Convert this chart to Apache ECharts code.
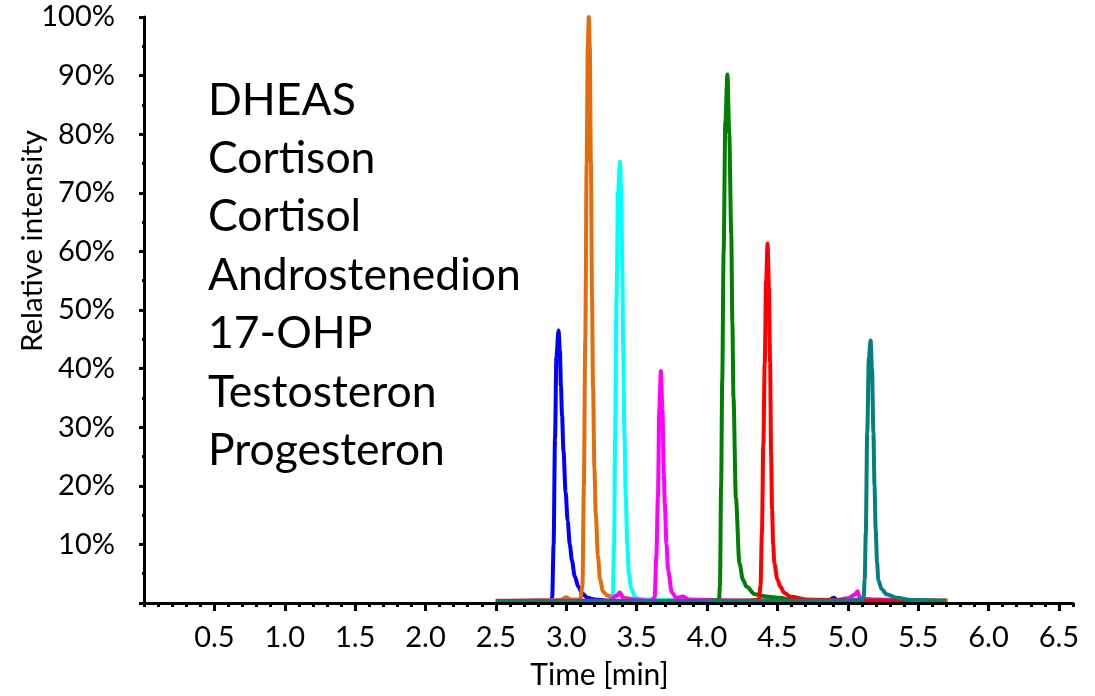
<!DOCTYPE html>
<html>
<head>
<meta charset="utf-8">
<script src="https://cdn.jsdelivr.net/npm/echarts@6/dist/echarts.min.js"></script>
<style>
  html, body { margin: 0; padding: 0; background: #fff; }
  #chart { width: 1095px; height: 696px; }
</style>
</head>
<body>
<div id="chart"></div>
<script>
// Peak traces: [time in min, relative intensity in %]
const names = ['DHEAS', 'Cortison', 'Cortisol', 'Androstenedion', '17-OHP', 'Testosteron', 'Progesteron'];
const colors = ['#0000ff', '#e46c0a', '#00ffff', '#ff00ff', '#008000', '#ff0000', '#008080'];

const dheas = [
  [2.5, 0.3], [2.7, 0.35], [2.89, 0.4], [2.9, 1], [2.91, 10], [2.92, 28], [2.93, 42], [2.945, 46.5],
  [2.955, 43], [2.962, 37], [2.97, 32], [2.98, 26], [2.995, 19], [3.01, 14], [3.025, 10], [3.04, 7.3],
  [3.06, 4.6], [3.085, 2.8], [3.115, 1.6], [3.15, 0.9], [3.2, 0.6], [3.3, 0.4], [3.6, 0.35], [4.0, 0.3],
  [4.5, 0.3], [4.86, 0.35], [4.9, 0.9], [4.93, 0.4], [5.2, 0.35], [5.5, 0.3]
];
const cortison = [
  [2.5, 0.4], [2.8, 0.45], [2.96, 0.5], [3.0, 1.0], [3.03, 0.6], [3.1, 0.6], [3.115, 3], [3.125, 20],
  [3.135, 45], [3.145, 75], [3.153, 95], [3.16, 100], [3.167, 95], [3.175, 75], [3.183, 52], [3.19, 37],
  [3.2, 23], [3.21, 15], [3.225, 8], [3.24, 4], [3.26, 2], [3.29, 1.3], [3.33, 1.1], [3.36, 1.2],
  [3.38, 1.5], [3.41, 0.9], [3.5, 0.6], [3.8, 0.5], [4.2, 0.45], [4.7, 0.5], [5.2, 0.45], [5.5, 0.5],
  [5.71, 0.45]
];
const cortisol = [
  [2.5, 0.3], [3.3, 0.35], [3.33, 1], [3.34, 10], [3.347, 28], [3.357, 52], [3.368, 70], [3.382, 75.3],
  [3.392, 68], [3.398, 57], [3.404, 44], [3.413, 29], [3.423, 18], [3.433, 10], [3.445, 5], [3.46, 2.6],
  [3.49, 0.9], [3.55, 0.5], [4.0, 0.4], [5.0, 0.35], [5.5, 0.35]
];
const androstenedion = [
  [2.5, 0.35], [3.3, 0.4], [3.36, 1.3], [3.38, 1.8], [3.41, 0.7], [3.6, 0.4], [3.628, 1], [3.64, 8],
  [3.651, 18], [3.661, 33], [3.672, 39.6], [3.683, 33], [3.693, 22], [3.7, 17], [3.712, 10], [3.724, 5.5],
  [3.75, 1.8], [3.78, 0.9], [3.83, 1.1], [3.87, 0.6], [4.2, 0.4], [4.9, 0.4], [5.0, 0.8], [5.05, 1.4],
  [5.07, 2.0], [5.085, 0.9], [5.12, 0.7], [5.2, 0.6], [5.5, 0.4]
];
const ohp17 = [
  [2.5, 0.3], [4.0, 0.35], [4.085, 0.5], [4.092, 3], [4.1, 20], [4.108, 38], [4.118, 60], [4.13, 82],
  [4.145, 90.2], [4.158, 80], [4.172, 63], [4.18, 48], [4.188, 35], [4.205, 18], [4.23, 6.8], [4.255, 4],
  [4.28, 2.8], [4.34, 1.5], [4.42, 1.1], [4.52, 0.9], [4.6, 0.5], [5.0, 0.4], [5.5, 0.35]
];
const testosteron = [
  [2.5, 0.3], [4.3, 0.35], [4.37, 0.6], [4.38, 3], [4.39, 12], [4.4, 27], [4.41, 41], [4.42, 55],
  [4.43, 61.3], [4.44, 54], [4.448, 41], [4.455, 26], [4.462, 16], [4.47, 10], [4.478, 6.8], [4.5, 4],
  [4.52, 2.8], [4.55, 1.7], [4.59, 1.1], [4.7, 0.6], [5.0, 0.4], [5.5, 0.35]
];
const progesteron = [
  [2.5, 0.25], [5.0, 0.4], [5.1, 0.6], [5.113, 1], [5.12, 4], [5.128, 12], [5.138, 29], [5.15, 42],
  [5.162, 44.8], [5.172, 40], [5.182, 29], [5.19, 20], [5.198, 12.5], [5.208, 7], [5.217, 3.9],
  [5.24, 2.4], [5.275, 1.5], [5.35, 0.9], [5.45, 0.5], [5.7, 0.4]
];
const traces = [dheas, cortison, cortisol, androstenedion, ohp17, testosteron, progesteron];

const xMajorTicks = [0.5, 1.0, 1.5, 2.0, 2.5, 3.0, 3.5, 4.0, 4.5, 5.0, 5.5, 6.0, 6.5];

const font = 'Lato, "Open Sans", sans-serif';
const chart = echarts.init(document.getElementById('chart'));

chart.setOption({
  animation: false,
  grid: { left: 144, right: 22, top: 17, bottom: 93, containLabel: false, outerBoundsMode: 'none' },
  legend: {
    orient: 'vertical',
    left: 203,
    top: 71,
    padding: 0,
    itemGap: 0,
    itemWidth: 0,
    itemHeight: 0,
    icon: 'rect',
    data: names,
    textStyle: { fontFamily: font, fontSize: 44.5, color: '#000', lineHeight: 58.4 }
  },
  xAxis: [
    {
      type: 'value',
      min: 0,
      max: 6.6,
      interval: 0.1,
      z: 3,
      name: 'Time [min]',
      nameLocation: 'middle',
      nameGap: 57,
      nameTextStyle: { fontFamily: font, fontSize: 30, color: '#000', padding: [0, 18, 0, 0] },
      axisLine: { show: true, lineStyle: { color: '#000', width: 3 } },
      axisTick: { show: true, length: 4, lineStyle: { color: '#000', width: 3 } },
      splitLine: { show: false },
      axisLabel: {
        margin: 20,
        fontFamily: font,
        fontSize: 29,
        color: '#000',
        formatter: v => (v > 0 && Math.abs(v * 2 - Math.round(v * 2)) < 1e-6) ? v.toFixed(1) : ''
      }
    },
    {
      type: 'value',
      min: 0,
      max: 6.6,
      interval: 0.5,
      position: 'bottom',
      z: 3,
      axisLine: { show: false },
      axisTick: { show: true, length: 8, customValues: xMajorTicks, lineStyle: { color: '#000', width: 3 } },
      axisLabel: { show: false },
      splitLine: { show: false }
    }
  ],
  yAxis: {
    type: 'value',
    min: 0,
    max: 100,
    interval: 10,
    z: 3,
    axisLine: { show: true, lineStyle: { color: '#000', width: 3 } },
    axisTick: { show: true, length: 5, lineStyle: { color: '#000', width: 3 } },
    minorTick: { show: true, splitNumber: 2, length: 2, lineStyle: { color: '#000', width: 3 } },
    splitLine: { show: false },
    axisLabel: {
      margin: 29,
      fontFamily: font,
      fontSize: 29,
      color: '#000',
      formatter: v => v === 0 ? '' : v + '%'
    }
  },
  graphic: [{
    type: 'text',
    x: 32,
    y: 241,
    rotation: Math.PI / 2,
    style: {
      text: 'Relative intensity',
      fontFamily: font,
      fontSize: 29.5,
      fill: '#000',
      align: 'center',
      verticalAlign: 'middle'
    }
  }],
  series: names.map((name, i) => ({
    name: name,
    type: 'line',
    data: traces[i],
    color: colors[i],
    showSymbol: false,
    smooth: 0.3,
    smoothMonotone: 'x',
    lineStyle: { width: 4, color: colors[i] },
    z: 2
  }))
});
</script>
</body>
</html>
